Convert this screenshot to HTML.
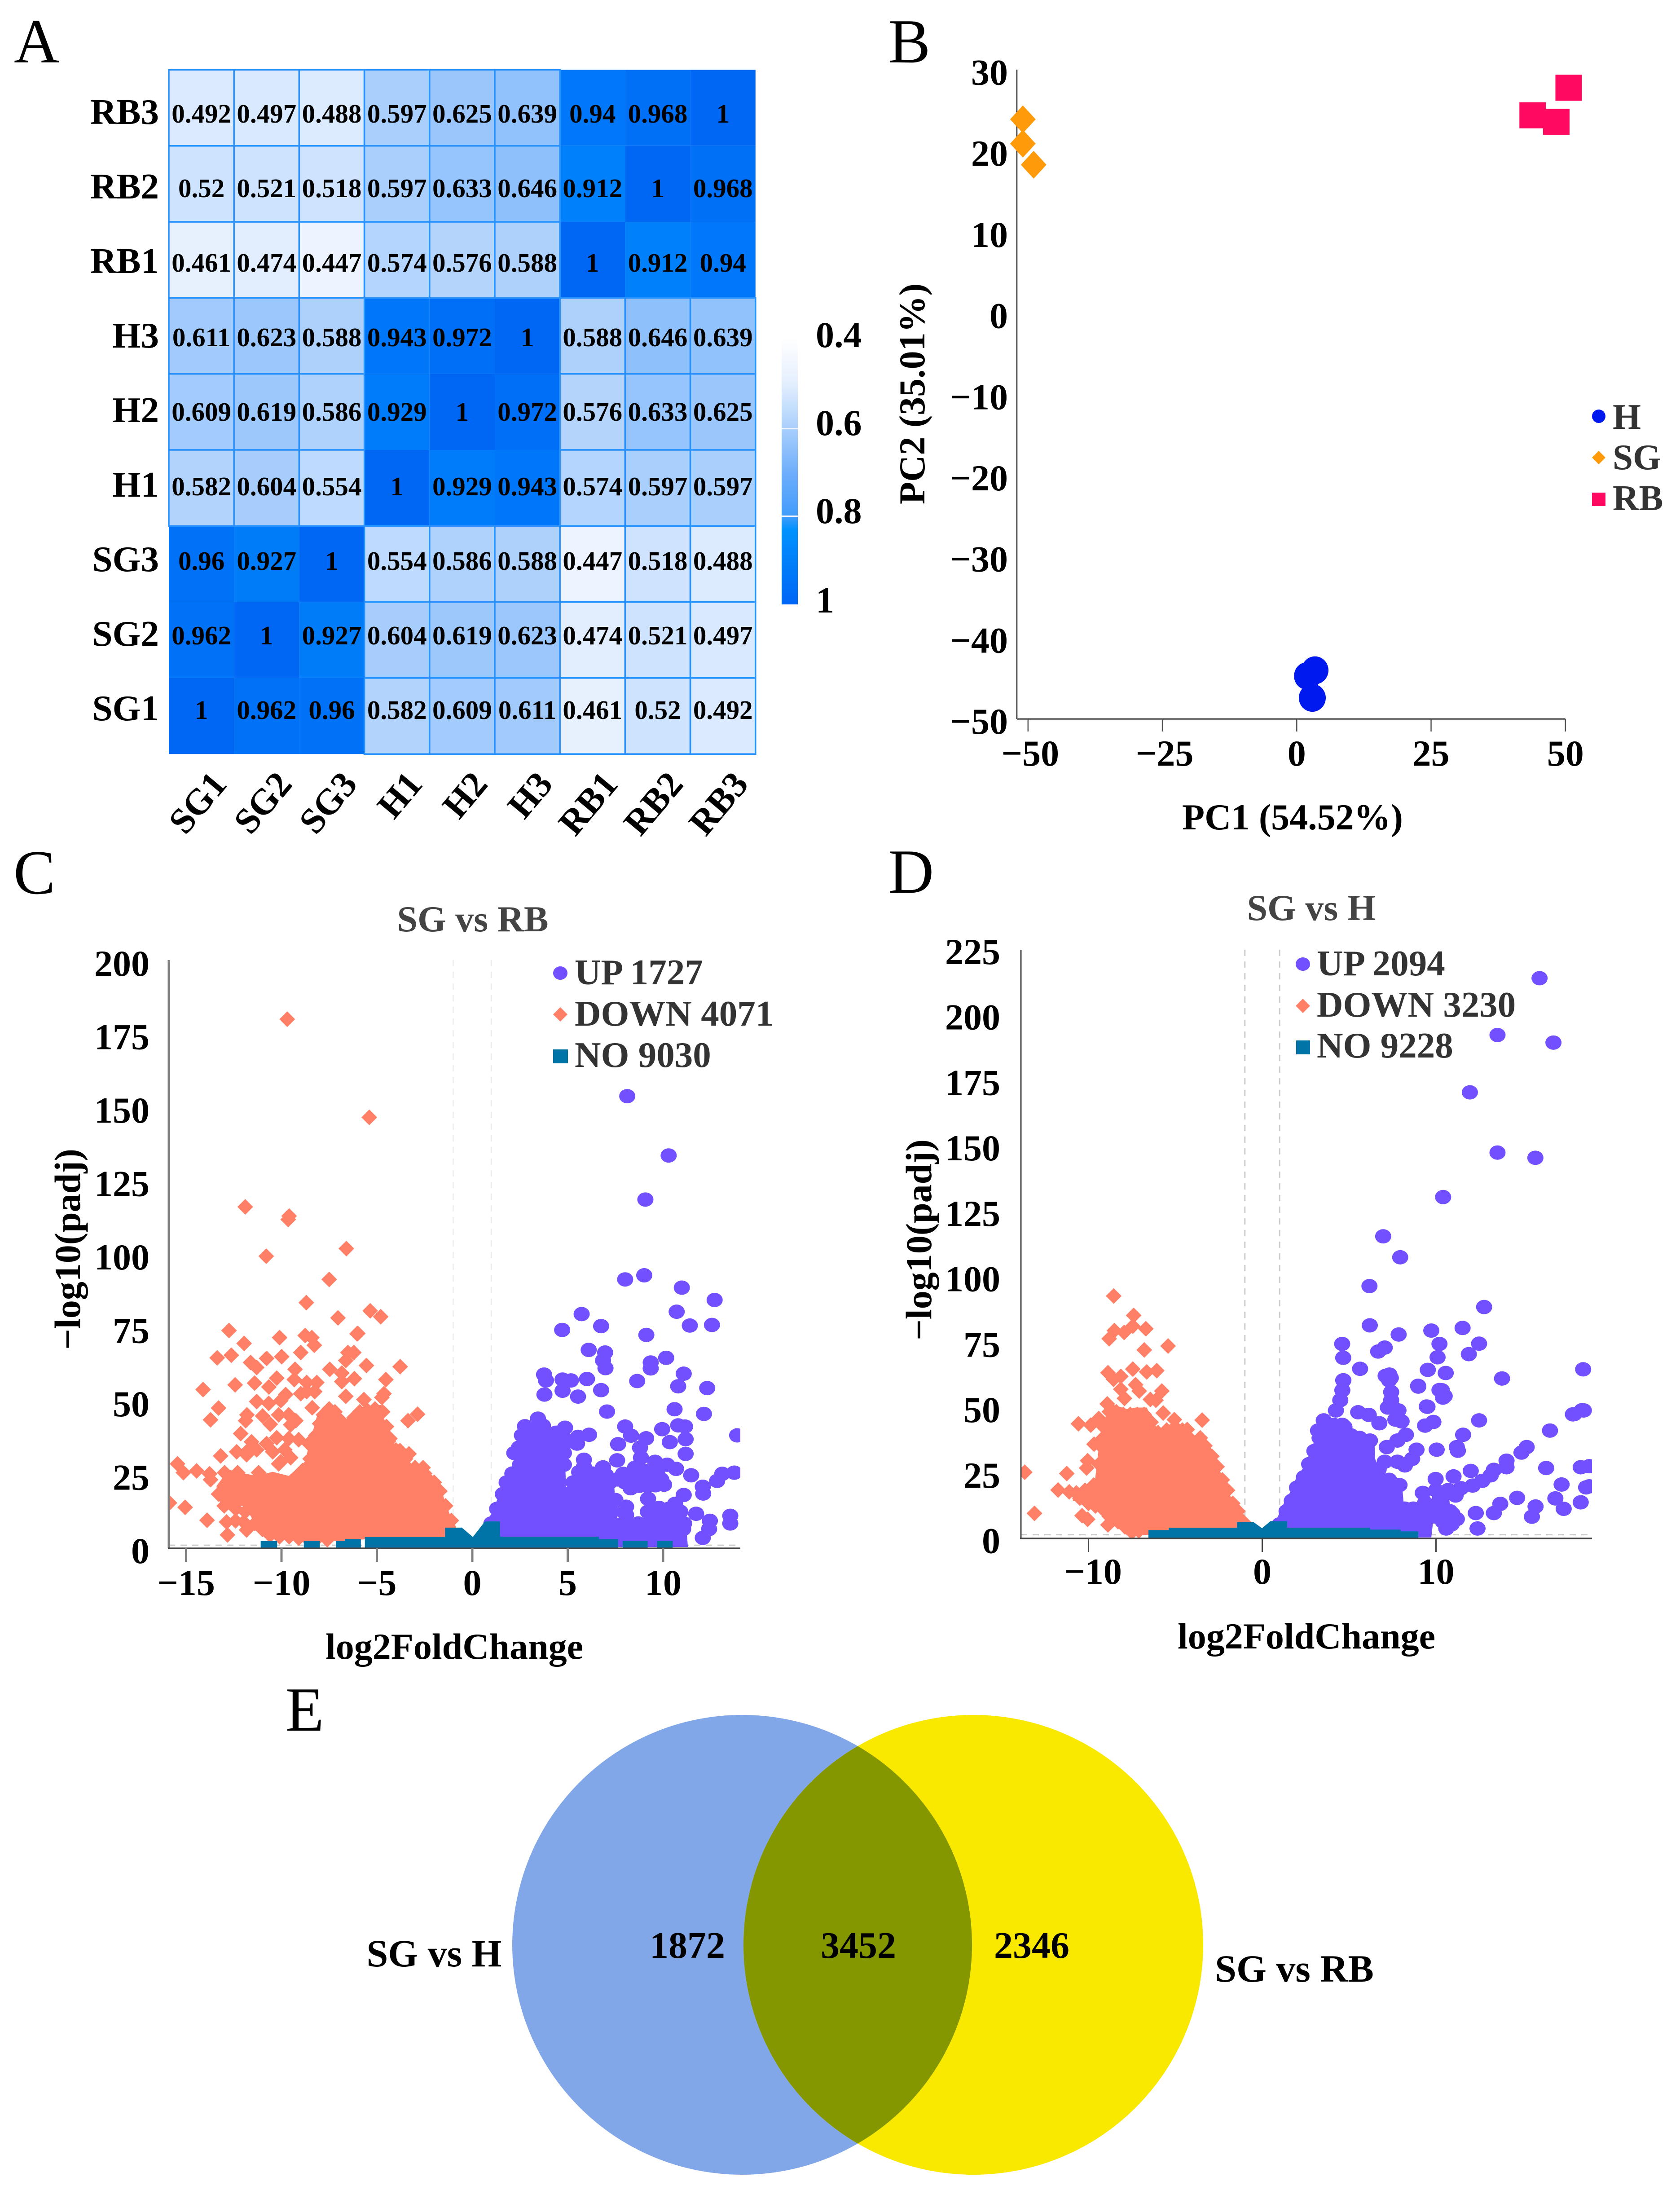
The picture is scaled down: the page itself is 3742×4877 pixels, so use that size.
<!DOCTYPE html>
<html lang="en">
<head>
<meta charset="utf-8">
<title>Transcriptome overview figure</title>
<style>
html,body{margin:0;padding:0;background:#fff;}
svg{display:block;}
text{font-family:"Liberation Serif",serif;font-weight:700;fill:#000;}
.panel{font-weight:400;font-size:140px;}
.tick{font-size:82px;}
.title{font-size:82px;}
.legend{font-size:81px;fill:#333;}
.ctitle{font-size:82px;fill:#444;text-anchor:middle;}
</style>
</head>
<body>
<svg id="figure" xmlns="http://www.w3.org/2000/svg" width="3742" height="4877" viewBox="0 0 3742 4877">
  <defs>
    <linearGradient id="cbar" x1="0" y1="0" x2="0" y2="1">
      <stop offset="0" stop-color="#ffffff"/>
      <stop offset="0.17" stop-color="#e4effe"/>
      <stop offset="0.34" stop-color="#a9cffc"/>
      <stop offset="0.5" stop-color="#70affb"/>
      <stop offset="0.67" stop-color="#3f9cfb"/>
      <stop offset="0.72" stop-color="#0092fe"/>
      <stop offset="1" stop-color="#0066f5"/>
    </linearGradient>
    <clipPath id="clipC"><rect x="375" y="2130" width="1274" height="1318"/></clipPath>
    <clipPath id="clipD"><rect x="2274" y="2110" width="1272" height="1316"/></clipPath>
    <clipPath id="clipVennLeft"><circle cx="1653" cy="4331" r="512"/></clipPath>
  </defs>
  <text class="panel" x="31" y="139">A</text>
  <text class="panel" x="1979" y="139">B</text>
  <text class="panel" x="30" y="1990">C</text>
  <text class="panel" x="1979" y="1988">D</text>
  <text class="panel" x="636" y="3854">E</text>

  <g id="heatmap"></g>
  <rect x="1741" y="753" width="36" height="593" fill="url(#cbar)"/>
  <rect x="1741" y="953" width="36" height="3" fill="#eaf3ff"/>
  <rect x="1741" y="1148" width="36" height="3" fill="#eaf3ff"/>
  <text class="tick" x="1817" y="773">0.4</text>
  <text class="tick" x="1817" y="969">0.6</text>
  <text class="tick" x="1817" y="1165">0.8</text>
  <text class="tick" x="1817" y="1364">1</text>

  <g id="pca"></g>
  <text class="title" x="2879" y="1847" text-anchor="middle">PC1 (54.52%)</text>
  <text class="title" transform="translate(2059,877) rotate(-90)" text-anchor="middle">PC2 (35.01%)</text>
  <circle cx="3561" cy="927" r="15" fill="#0019ee"/>
  <polygon points="3561,1004 3576,1019 3561,1034 3546,1019" fill="#ff9a0a"/>
  <rect x="3546" y="1097" width="30" height="30" fill="#ff0a60"/>
  <text class="legend" x="3592" y="955">H</text>
  <text class="legend" x="3592" y="1045">SG</text>
  <text class="legend" x="3592" y="1136">RB</text>

  <g id="volcanoC"></g>
  <text class="ctitle" x="1053" y="2074">SG vs RB</text>
  <text class="title" x="1012" y="3694" text-anchor="middle">log2FoldChange</text>
  <text class="title" transform="translate(178,2782) rotate(-90)" text-anchor="middle">−log10(padj)</text>
  <ellipse cx="1248" cy="2167" rx="16" ry="15" fill="#7350ff"/>
  <polygon points="1248,2243 1264,2259 1248,2275 1232,2259" fill="#ff7f67"/>
  <rect x="1232" y="2337" width="33" height="31" fill="#0074a6"/>
  <text class="legend" x="1280" y="2192">UP 1727</text>
  <text class="legend" x="1280" y="2284">DOWN 4071</text>
  <text class="legend" x="1280" y="2376">NO 9030</text>

  <g id="volcanoD"></g>
  <text class="ctitle" x="2921" y="2049">SG vs H</text>
  <text class="title" x="2910" y="3671" text-anchor="middle">log2FoldChange</text>
  <text class="title" transform="translate(2074,2761) rotate(-90)" text-anchor="middle">−log10(padj)</text>
  <ellipse cx="2902" cy="2147" rx="16" ry="15" fill="#7350ff"/>
  <polygon points="2902,2224 2918,2240 2902,2256 2886,2240" fill="#ff7f67"/>
  <rect x="2887" y="2317" width="31" height="31" fill="#0074a6"/>
  <text class="legend" x="2933" y="2172">UP 2094</text>
  <text class="legend" x="2933" y="2264">DOWN 3230</text>
  <text class="legend" x="2933" y="2355">NO 9228</text>

  <g>
    <circle cx="1653" cy="4331" r="512" fill="#82a7e8"/>
    <circle cx="2168" cy="4331" r="512" fill="#f9e800"/>
    <circle cx="2168" cy="4331" r="512" fill="#849600" clip-path="url(#clipVennLeft)"/>
    <text x="1531" y="4360" font-size="84" text-anchor="middle">1872</text>
    <text x="1912" y="4360" font-size="84" text-anchor="middle">3452</text>
    <text x="2298" y="4360" font-size="84" text-anchor="middle">2346</text>
    <text x="967" y="4379" font-size="86" text-anchor="middle">SG vs H</text>
    <text x="2883" y="4413" font-size="86" text-anchor="middle">SG vs RB</text>
  </g>
</svg>

<script>
// ---------- Panel A data ----------
const heatRows = ['RB3','RB2','RB1','H3','H2','H1','SG3','SG2','SG1'];
const heatCols = ['SG1','SG2','SG3','H1','H2','H3','RB1','RB2','RB3'];
const heatValues = [
  ['0.492','0.497','0.488','0.597','0.625','0.639','0.94','0.968','1'],
  ['0.52','0.521','0.518','0.597','0.633','0.646','0.912','1','0.968'],
  ['0.461','0.474','0.447','0.574','0.576','0.588','1','0.912','0.94'],
  ['0.611','0.623','0.588','0.943','0.972','1','0.588','0.646','0.639'],
  ['0.609','0.619','0.586','0.929','1','0.972','0.576','0.633','0.625'],
  ['0.582','0.604','0.554','1','0.929','0.943','0.574','0.597','0.597'],
  ['0.96','0.927','1','0.554','0.586','0.588','0.447','0.518','0.488'],
  ['0.962','1','0.927','0.604','0.619','0.623','0.474','0.521','0.497'],
  ['1','0.962','0.96','0.582','0.609','0.611','0.461','0.52','0.492']
];
const scaleStopValues = [0.4,0.5,0.6,0.7,0.8,0.85,1];
const scaleStopColors = [[255,255,255],[216,232,254],[168,206,252],[112,175,251],[63,156,251],[0,146,254],[0,103,245]];

// ---------- Panel B data ----------
const pcaXTicks = [-50,-25,0,25,50];
const pcaYTicks = [30,20,10,0,-10,-20,-30,-40,-50];
const pcaSG = [[-50.96,23.9],[-50.96,20.9],[-48.95,18.3]];
const pcaRB = [[50.6,27.9],[43.9,24.5],[48.3,23.7]];
const pcaH = [[3.4,-44],[2,-44.7],[2.9,-47.4]];

// ---------- Panel C data ----------
const cXTicks = [-15,-10,-5,0,5,10];
const cYTicks = [0,25,50,75,100,125,150,175,200];
const cDown = [[-9.7,179.7],[-5.4,146.3],[-11.9,115.8],[-9.6,112.7],[-9.65,111.5],[-10.8,99],[-6.6,101.6],[-7.5,91.1],[-8.7,83.2],[-5.35,80.4],[-4.8,78.4],[-7.04,78],[-6,72.7],[-12.75,73.7],[-10.1,71.3],[-11.96,69.3],[-8.76,72],[-8.41,71.3],[-8.28,68.7],[-6.04,72.6],[-13.37,64.4],[-12.63,65.3],[-10.78,64.2],[-9.99,64.8],[-8.99,66.2],[-6.52,66.2],[-6.21,66.2],[-6.63,63.5],[-11.62,62.8],[-11.3,61.1],[-5.55,61.8],[-3.78,61.4],[-9.29,60.5],[-7.47,60.5],[-6.84,59.2],[-10.25,57.5],[-9.33,57],[-6.18,57.3],[-6.84,56.3],[-4.53,57],[-14.11,53.6],[-12.43,55.2],[-11.41,55.8],[-10.66,54.5],[-8.68,56],[-8.15,56],[-8.68,52.9],[-8.26,52.9],[-8.99,52.2],[-4.63,52.2],[-6.63,51.3],[-5.68,50.2],[-4.74,50.9],[-11.3,49.5],[-10.67,48.9],[-10.04,49.8],[-9.78,51.9],[-13.3,47.3],[-8.39,47.4],[-13.72,43.3],[-11.81,45],[-11.88,43],[-10.99,44.6],[-10.59,41.8],[-10.15,45],[-9.62,45],[-9.25,43],[-9.52,41.6],[-3.37,43],[-2.87,45.2],[-13.19,31],[-12.35,32.4],[-11.83,31.4],[-11.3,33.1],[-10.78,35.2],[-10.25,37.2],[-9.62,36.9],[-9.1,36.5],[-8.57,35.2],[-10.46,32.4],[-9.83,33.1],[-10.04,29],[-9.52,30.4],[-10.15,28.3],[-12.14,38.6],[-11.57,35.8],[-11.72,33.1],[-15.45,28.3],[-15.14,25.3],[-14.45,25.9],[-13.77,24.9],[-13.72,22.9],[-12.98,25.3],[-12.3,25.3],[-11.2,25.3],[-4.32,36.9],[-3.79,32.8],[-3.32,31.7],[-2.58,27],[-15.87,15],[-15.05,13.5],[-13.9,9.1],[-12.88,8.5],[-12.41,8.9],[-11.98,8.5],[-11.83,5.8],[-12.83,4.1],
  [-13.3,18],[-12.9,21],[-12.5,23],[-12,22],[-11.6,20],[-11,20],[-10.7,22],[-10.2,22],[-9.7,21],[-9.3,22],[-8.9,26],[-8.5,30],[-8.2,38],[-8,42],[-7.8,45],[-7.5,47],[-7.2,46],[-6.9,43],[-6.5,41],[-6.2,44],[-5.9,46],[-5.5,46.5],[-5.1,47],[-4.7,46],[-4.5,41],[-4.4,36],[-4,33],[-3.5,30],[-3,27],[-2.5,25],[-2,22],[-1.7,19],[-1.4,14],[-1.1,9],
  [-13,14],[-12.4,13],[-11.9,12],[-11.4,8],[-11,6],[-10.6,4],[-10.1,3.5],[-9.6,3.5],[-9.1,3],[-8.6,2.5],[-8.1,3],[-7.6,2.5]];
const cDownCoreX = [-13.4,-12.77,-11.93,-11.3,-10.46,-9.62,-8.78,-8.15,-7.31,-6.68,-6.05,-4.79,-4.37,-3.74,-3.11,-2.37,-1.74,-1.43,-1.11,-0.85];
const cDownCoreTop = [20.8,26.3,25,24.2,25.6,24.2,29,44.4,48.4,42.8,47.3,48.4,37,33,27.6,26,22.2,15.4,9.9,6.8];
const cDownCoreBottom = [16,14,14,7,3,3,2.4,2.4,2,2,2.4,3,3,3,3,3,3,3,3,3];
const cUp = [[8.12,153.5],[10.29,133.3],[9.07,118.3],[8.01,91.1],[9.01,92.5],[10.98,88.3],[12.7,84.1],[10.71,80.1],[5.73,79.3],[6.75,75.2],[4.71,73.9],[11.4,75.4],[12.56,75.6],[9.12,72.2],[6.1,67.1],[6.96,66.2],[6.85,63.5],[6.98,60.9],[10.16,64.4],[9.35,62.8],[9.35,60.8],[11.08,59],[3.76,58.7],[3.86,56.7],[4.73,57],[5.17,56.7],[6.01,57.2],[8.64,56.5],[10.79,54.7],[12.31,54.1],[3.78,51.9],[4.73,53.2],[5.54,51.2],[6.75,53.4],[7.06,46.1],[10.6,46.9],[12.14,45.3],[3.44,43.7],[2.76,41.1],[3.7,41.3],[4.86,40.6],[4.39,38.9],[6.12,38.2],[5.54,37.5],[5.49,35.2],[3.18,36.9],[2.44,33.8],[3.91,33.8],[4.65,33.8],[8.01,41],[8.32,37.9],[9.11,37],[9.95,40.1],[10.79,41.4],[11.15,41],[11.18,36.7],[10.35,35.7],[11.18,31.7],[7.64,35],[8.79,33.8],[8.84,30.4],[9.58,29],[10.21,28],[10.68,26.6],[11.47,24.4],[7.59,29.5],[6.85,27.1],[5.85,29.7],[5.85,27.3],[2.5,28],[12.08,20.5],[12.1,18.2],[12.83,22.5],[13.1,24.9],[13.73,25.3],[13.88,38],[11.08,17.7],[11.73,11.3],[12.45,8.9],[12.41,6.1],[12.08,3.1],[13.52,10.6],[13.52,8],[11.05,6.1],[10.73,3.1],[8.06,13.7],[8.06,10.9],[9.21,16.4],[10.05,21.2],[9.16,20.8],[9.48,23.5],[8.43,23.5],[8.74,20.8],[7.9,24.9],[8.53,27],[9.69,25.6],[10.63,14.7],[9.79,13.3],[9.37,10.6],
  [1,8],[1.3,13],[1.6,18],[1.8,22],[2.1,25],[2.5,27],[3,28],[3.4,29],[3.9,29],[4.4,29],[4.8,28],[5.3,22],[5.7,22],[6.2,23],[6.7,23],[7.2,22],[7.5,16],[7.3,12],[8.1,8],[8.7,8],[9.2,12],[9.7,13],[10.3,13],[10.9,12],[11.1,8],[5,18],
  [2.9,35],[3.4,35],[2.6,38],[3.2,40],[3.7,38],[4.2,36],[4.8,37],[5.1,36],[3,31],[3.6,32],[4.3,32],[4.8,32],[2.2,32],[2.8,32],[8.9,26],[9.3,26],[8.3,20],[9.6,21],[9.9,23],[9.2,24],[8,22],[7.6,23],[7,24.5],[6.3,25],[5.6,25.5]];
const cUpCoreX = [0.77,1.08,1.4,1.71,2.13,2.86,3.67,4.86,4.91,5.28,7.4,7.5,7.6,9.0,9.1,10.2,11.0,11.2,11.3];
const cUpCoreTop = [9.2,11.9,18,23.5,26.3,27.6,30.4,30.4,20,24.2,24.2,15,9.9,9.9,14,15,14.5,8,0];
const cUpCoreBottom = [0,0,0,0,0,0,0,0,0,0,0,0,0,0,0,0,0,0,0];
const cNoX = [[-11.09,-10.23],[-8.83,-7.99],[-7.15,-6.68,-6.68,-5.84],[-5.63,-1.43,-1.43,-0.55,0.03,0.66,1.45,1.45,6.64,6.64,7.64],[7.88,9.19],[9.68,10.5]];
const cNoTop = [[2,2],[2,2],[2,2,2.7,2.7],[3.4,3.4,6.6,6.6,3.4,8.7,8.7,3.5,3.5,2.7,2.7],[2,2],[2,2]];

// ---------- Panel D data ----------
const dXTicks = [-10,0,10];
const dYTicks = [0,25,50,75,100,125,150,175,200,225];
const dDown = [[-8.55,92.2],[-7.4,84.8],[-7.45,80.7],[-6.7,79.7],[-8.51,79],[-7.95,78.3],[-8.81,75.9],[-6.79,71.6],[-5.42,73.1],[-7.45,64.3],[-6.65,63.2],[-6.07,63.7],[-8.88,62.9],[-8.14,61.5],[-8.56,60.4],[-7.29,58.3],[-8.14,56.6],[-7.08,55.9],[-5.78,55.9],[-7.93,53.1],[-6.44,52.7],[-6.12,52.4],[-8.92,51],[-5.7,47.5],[-5.06,45],[-3.46,44.8],[-10.58,43.4],[-9.87,42.9],[-3.57,38],[-4.32,41.2],[-9.68,35.6],[-10.05,29.3],[-8.99,27.5],[-13.67,24.9],[-11.25,24.4],[-10.11,26.5],[-11.75,18.1],[-11.11,17.4],[-13.11,9.2],[-10.37,15.3],[-10.37,8.3],[-10.05,6.9],[-8.88,4.8],[-9.52,16],[-9.31,37],[-9.41,45.4],
  [-10.7,17],[-10.2,18],[-9.7,20],[-9.4,28],[-9.3,35],[-9.1,42],[-8.8,48],[-8.4,48],[-8,47],[-7.6,47],[-7.2,47],[-6.8,47],[-6.4,44],[-6,40],[-5.5,41],[-5,42],[-4.6,41],[-4.2,38],[-3.7,36],[-3.3,35],[-2.9,31],[-2.6,27],[-2.3,22],[-2,18],[-1.7,13],[-1.4,10],[-1.1,6],
  [-10.5,15],[-10,13],[-9.6,12],[-9.2,11],[-8.8,8],[-8.3,6],[-7.9,4],[-7.5,2],[-7.1,2.5]];
const dDownCoreX = [-10.9,-9.63,-9.31,-8.78,-7.71,-7.29,-6.65,-6.01,-5.06,-4.53,-4,-3.25,-2.83,-2.67,-2.08,-1.66,-1.02];
const dDownCoreTop = [17.3,21.6,40,51,48.9,49.6,49.6,41,44,42.6,39,37,32.8,29.3,19.5,13.2,6.9];
const dDownCoreBottom = [14,12.5,12.5,7.6,2,0.6,1,1,1,1,1,1,1,1,1,1,1];
const dUp = [[15.96,213.6],[13.54,191.9],[16.76,189],[11.95,170],[13.54,147],[15.72,145],[10.41,130],[6.96,115],[7.94,107],[6.17,96],[12.77,88],[6.19,81],[11.53,80],[9.73,79],[7.85,77.5],[12.48,74],[10.2,73.9],[4.6,73.9],[7.05,72.5],[6.67,71],[11.89,70],[10.09,68.8],[4.66,68.6],[5.63,64.4],[18.47,64.2],[9.53,64],[10.56,62.8],[7.1,61.7],[13.8,60.7],[7.4,60.9],[4.66,60],[8.97,57.9],[10.2,56.3],[10.5,54],[9.47,50],[18.4,48.6],[17.88,47],[7.32,62.2],[7.3,60],[4.67,60],[4.61,56.2],[4.49,52.4],[7.42,55.5],[7.42,52.4],[8.98,57.6],[10.34,56.2],[10.4,53.4],[9.51,49.9],[7.23,49.6],[7.84,48.5],[4.24,48.5],[5.52,47.8],[6.13,46.8],[9.85,44.1],[9.37,42.7],[12.48,44.7],[7.66,45],[8.02,44.3],[6.74,43.6],[18.51,48.5],[17.96,47.1],[4.73,42.2],[3.54,44.7],[3.21,40.8],[16.56,40.8],[11.56,39.2],[8.27,39.2],[7.78,37],[7.17,34.5],[8.88,33.5],[10.04,33.5],[11.2,34.5],[11.26,33.1],[15.22,34.5],[14.92,32.4],[8.63,30],[8.21,27.5],[7.05,28.9],[7.78,28.9],[14.06,29.3],[14.06,26.8],[13.33,25.8],[16.34,26.5],[18.33,26.8],[18.82,27.2],[12,25.4],[11.01,23.3],[9.98,22.3],[13.15,23.7],[12.66,21.6],[12.11,19.8],[11.44,18.8],[10.71,18.1],[17.23,20.2],[18.64,19.1],[18.82,19.5],[11.13,16],[9.24,17],[9.37,13.2],[14.67,15.1],[16.87,14.9],[13.7,12.8],[18.33,13.4],[15.73,11.8],[17.35,10.9],[13.33,9.3],[12.29,9.3],[10.95,9],[15.52,7.9],[12.39,3.4],[10.59,3.4],[10.34,9],
  [1,5],[1.4,10],[1.7,14],[2,19],[2.4,23],[2.7,28],[3,33],[3.3,38],[3.7,43],[4.1,43],[4.6,43],[5.1,39],[5.6,38],[6.2,37],[6.7,26],[7.3,22],[7.9,20],[8.2,11],[8.7,11],[9.2,11],[9.6,11],[10,18],[10.4,16],[10.8,10],[11.2,7],[9.9,8],[10.4,6],[10.9,5]];
const dUpCoreX = [0.83,1.2,1.56,1.87,2.35,2.6,3.09,3.63,4.37,4.98,5.59,6.44,6.5,6.8,8.02,8.15,9.73,9.85,10.71,10.83,11.3,11.38];
const dUpCoreTop = [6.9,12.5,16.7,21.6,26.5,30,38.4,45.4,45,41.9,40,39,30,24.4,21.6,12.5,12.5,19.8,17.4,11,9,6.2];
const dUpCoreBottom = [0,0,0,0,0,0,0,0,0,0,0,0,0,0,0,0,0,7,7,7,7,6.2];
const dNoX = [[-6.55,-5.38,-5.38,-1.45,-1.45,-0.49,-0.01,0.47,1.43,1.43,6.2,6.2,7.96,7.96,8.98]];
const dNoTop = [[2.8,2.8,3.7,3.7,5.8,5.8,3.5,6.2,6.2,3.7,3.7,3,3,2.3,2.3]];

// ---------- Helpers ----------
const NS = 'http://www.w3.org/2000/svg';
function mk(parent, tag, attrs, txt) {
  const e = document.createElementNS(NS, tag);
  for (const k in attrs) e.setAttribute(k, attrs[k]);
  if (txt !== undefined) e.textContent = txt;
  parent.appendChild(e);
  return e;
}
function heatColor(v) {
  for (let i = 1; i < scaleStopValues.length; i++) {
    if (v <= scaleStopValues[i]) {
      const t = (v - scaleStopValues[i-1]) / (scaleStopValues[i] - scaleStopValues[i-1]);
      const a = scaleStopColors[i-1], b = scaleStopColors[i];
      return 'rgb(' + a.map((c, j) => Math.round(c + (b[j] - c) * t)).join(',') + ')';
    }
  }
  return 'rgb(0,103,245)';
}
function fmtTick(v) { return v < 0 ? '\u2212' + Math.abs(v) : String(v); }

// ---------- Panel A ----------
(function () {
  const g = document.getElementById('heatmap');
  const x0 = 376, y0 = 155.5, cw = 145.2, ch = 169.3, textStep = 166;
  const dark = [], light = [];
  heatValues.forEach((row, r) => row.forEach((s, c) => (Number(s) > 0.9 ? dark : light).push([r, c, s])));
  dark.concat(light).forEach(([r, c, s]) => {
    const v = Number(s);
    const cell = mk(g, 'rect', {x: x0 + c * cw, y: y0 + r * ch, width: cw, height: ch, fill: heatColor(v), stroke: v > 0.9 ? 'none' : '#2893ff', 'stroke-width': 3.5});
    
    
  });
  heatValues.forEach((row, r) => row.forEach((s, c) => {
    const t = mk(g, 'text', {x: x0 + (c + 0.5) * cw, y: 273 + r * textStep, 'font-size': 59, 'text-anchor': 'middle'}, s);
    
    
  }));
  heatRows.forEach((s, r) => {
    const t = mk(g, 'text', {x: 354, y: 276 + r * textStep, 'font-size': 81, 'text-anchor': 'end'}, s);
    
    
  });
  heatCols.forEach((s, c) => {
    const px = x0 + (c + 0.5) * cw + 60;
    const t = mk(g, 'text', {transform: 'translate(' + px + ',1748) rotate(-50)', 'font-size': 81, 'text-anchor': 'end'}, s);
    
    
  });
})();

// ---------- Panel B ----------
(function () {
  const g = document.getElementById('pca');
  const X = v => 2888.3 + 11.97 * v;
  const Y = v => 697.6 - 18.07 * v;
  const ya = mk(g, 'line', {x1: 2265, x2: 2265, y1: 155, y2: 1601, stroke: '#222', 'stroke-width': 2.5});
  
  
  const xa = mk(g, 'line', {x1: 2265, x2: X(50), y1: 1601, y2: 1601, stroke: '#777', 'stroke-width': 4});
  
  
  pcaXTicks.forEach(v => {
    const tk = mk(g, 'line', {x1: X(v), x2: X(v), y1: 1601, y2: 1629, stroke: '#555', 'stroke-width': 2.5});
    
    
    const t = mk(g, 'text', {class: 'tick', x: X(v) + (v < 0 ? 5 : 0), y: 1705, 'text-anchor': 'middle'}, fmtTick(v));
    
    
  });
  pcaYTicks.forEach(v => {
    const t = mk(g, 'text', {class: 'tick', x: 2245, y: Y(v) + 33, 'text-anchor': 'end'}, fmtTick(v));
    
    
  });
  pcaSG.forEach(([a, b]) => {
    const x = X(a), y = Y(b);
    const m = mk(g, 'polygon', {points: [x, y - 31, x + 28.5, y, x, y + 31, x - 28.5, y].join(','), fill: '#ff9a0a'});
    
    
  });
  pcaRB.forEach(([a, b]) => {
    const m = mk(g, 'rect', {x: X(a) - 29.5, y: Y(b) - 27, width: 59, height: 58, fill: '#ff0a60'});
    
    
  });
  pcaH.forEach(([a, b]) => {
    const m = mk(g, 'ellipse', {cx: X(a), cy: Y(b), rx: 30, ry: 31, fill: '#0019ee'});
    
    
  });
})();

// ---------- Panels C and D ----------
function areaPoints(X, Y, xs, tops, bottoms) {
  const up = xs.map((v, i) => X(v) + ',' + Y(tops[i]));
  const down = xs.map((v, i) => X(v) + ',' + Y(bottoms[i])).reverse();
  return up.concat(down).join(' ');
}
function drawVolcano(cfg) {
  const g = document.getElementById(cfg.id);
  const X = v => cfg.x0 + cfg.kx * v;
  const Y = v => cfg.y0 - cfg.ky * v;
  [-1, 1].forEach(v => {
    const l = mk(g, 'line', {x1: X(v), x2: X(v), y1: cfg.top, y2: cfg.axisY, stroke: cfg.guide, 'stroke-width': 3, 'stroke-dasharray': '14 12'});
    
    
  });
  const h = mk(g, 'line', {x1: cfg.left, x2: cfg.right, y1: Y(cfg.padj), y2: Y(cfg.padj), stroke: '#ccc', 'stroke-width': 3, 'stroke-dasharray': '14 12'});
  
  
  const plot = mk(g, 'g', {'clip-path': 'url(#' + cfg.clip + ')'});
  
  
  const dc = mk(plot, 'polygon', {points: areaPoints(X, Y, cfg.downX, cfg.downTop, cfg.downBottom), fill: '#ff7f67'});
  
  
  cfg.down.forEach(([a, b]) => {
    const x = X(a), y = Y(b);
    const m = mk(plot, 'polygon', {points: [x, y - 17.5, x + 17.5, y, x, y + 17.5, x - 17.5, y].join(','), fill: '#ff7f67'});
    
    
  });
  const uc = mk(plot, 'polygon', {points: areaPoints(X, Y, cfg.upX, cfg.upTop, cfg.upBottom), fill: '#7350ff'});
  
  
  cfg.up.forEach(([a, b]) => {
    const m = mk(plot, 'ellipse', {cx: X(a), cy: Y(b), rx: 18, ry: 16, fill: '#7350ff'});
    
    
  });
  cfg.noX.forEach((xs, i) => {
    const zero = xs.map(() => -1);
    const n = mk(plot, 'polygon', {points: areaPoints(X, Y, xs, cfg.noTop[i], zero), fill: '#0074a6'});
    
    
  });
  const ya = mk(g, 'line', {x1: cfg.left, x2: cfg.left, y1: cfg.top, y2: cfg.axisY, stroke: cfg.axisColor, 'stroke-width': cfg.axisW});
  
  
  const xa = mk(g, 'line', {x1: cfg.left - 2, x2: cfg.right, y1: cfg.axisY, y2: cfg.axisY, stroke: '#444', 'stroke-width': 3.5});
  
  
  cfg.xTicks.forEach(v => {
    const tk = mk(g, 'line', {x1: X(v), x2: X(v), y1: cfg.axisY, y2: cfg.axisY + 30, stroke: cfg.axisColor, 'stroke-width': cfg.axisW});
    
    
    const t = mk(g, 'text', {class: 'tick', x: X(v) + (v < 0 ? cfg.minusShift : 0), y: cfg.xLabelY, 'text-anchor': 'middle'}, fmtTick(v));
    
    
  });
  cfg.yTicks.forEach(v => {
    const t = mk(g, 'text', {class: 'tick', x: cfg.yLabelX, y: Y(v) + cfg.yLabelDy, 'text-anchor': 'end'}, String(v));
    
    
  });
}
drawVolcano({id: 'volcanoC', clip: 'clipC', x0: 1052, kx: 42.5, y0: 3445, ky: 6.54, left: 376, right: 1649, top: 2138, axisY: 3448, padj: 0.6,
  guide: '#eeeeee', axisColor: '#808080', axisW: 5, minusShift: 0, xLabelY: 3552, yLabelX: 333, yLabelDy: 36,
  xTicks: cXTicks, yTicks: cYTicks, down: cDown, downX: cDownCoreX, downTop: cDownCoreTop, downBottom: cDownCoreBottom,
  up: cUp, upX: cUpCoreX, upTop: cUpCoreTop, upBottom: cUpCoreBottom, noX: cNoX, noTop: cNoTop});
drawVolcano({id: 'volcanoD', clip: 'clipD', x0: 2811.5, kx: 38.7, y0: 3423.7, ky: 5.83, left: 2274, right: 3546, top: 2115, axisY: 3426, padj: 1.05,
  guide: '#cccccc', axisColor: '#444', axisW: 3, minusShift: 10, xLabelY: 3527, yLabelX: 2228, yLabelDy: 35,
  xTicks: dXTicks, yTicks: dYTicks, down: dDown, downX: dDownCoreX, downTop: dDownCoreTop, downBottom: dDownCoreBottom,
  up: dUp, upX: dUpCoreX, upTop: dUpCoreTop, upBottom: dUpCoreBottom, noX: dNoX, noTop: dNoTop});
</script>
</body>
</html>
